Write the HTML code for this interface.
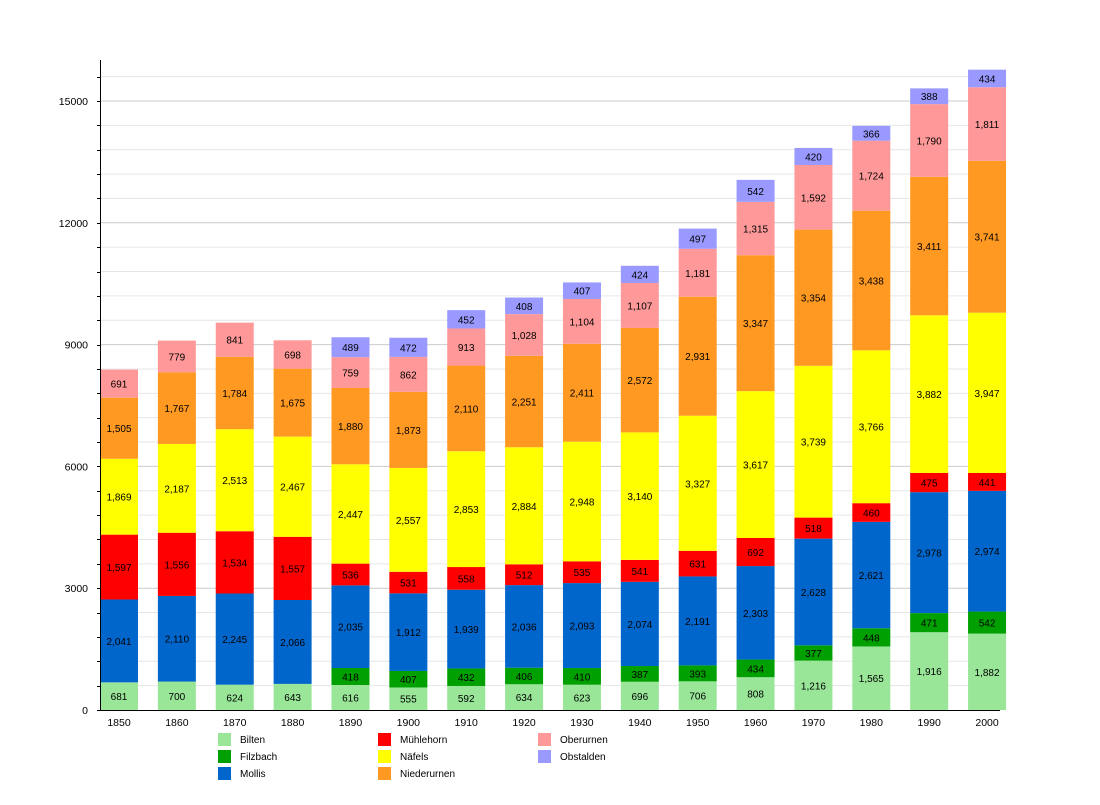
<!DOCTYPE html>
<html><head><meta charset="utf-8"><style>
html,body{margin:0;padding:0;background:#fff;}
svg text{font-family:"Liberation Sans",sans-serif;}
</style></head><body>
<svg id="c" width="1100" height="800" xmlns="http://www.w3.org/2000/svg"></svg>
<script>
const svg=document.getElementById('c');
const NS='http://www.w3.org/2000/svg';
function el(t,a,txt){const e=document.createElementNS(NS,t);for(const k in a)e.setAttribute(k,a[k]);if(txt!==undefined)e.textContent=txt;svg.appendChild(e);return e;}
const years=[1850,1860,1870,1880,1890,1900,1910,1920,1930,1940,1950,1960,1970,1980,1990,2000];
const data=[
[681,0,2041,1597,1869,1505,691,0],
[700,0,2110,1556,2187,1767,779,0],
[624,0,2245,1534,2513,1784,841,0],
[643,0,2066,1557,2467,1675,698,0],
[616,418,2035,536,2447,1880,759,489],
[555,407,1912,531,2557,1873,862,472],
[592,432,1939,558,2853,2110,913,452],
[634,406,2036,512,2884,2251,1028,408],
[623,410,2093,535,2948,2411,1104,407],
[696,387,2074,541,3140,2572,1107,424],
[706,393,2191,631,3327,2931,1181,497],
[808,434,2303,692,3617,3347,1315,542],
[1216,377,2628,518,3739,3354,1592,420],
[1565,448,2621,460,3766,3438,1724,366],
[1916,471,2978,475,3882,3411,1790,388],
[1882,542,2974,441,3947,3741,1811,434]];
const colors=['#99e699','#00a000','#0066cc','#ff0000','#ffff00','#ff9922','#ff9999','#9999ff'];
const names=['Bilten','Filzbach','Mollis','Mühlehorn','Näfels','Niederurnen','Oberurnen','Obstalden'];
const x0=100,x1=1000,yb=710,k=609/15000;
for(let v=600;v<=15600;v+=600){const y=yb-v*k;el('line',{x1:x0,x2:x1,y1:y,y2:y,stroke:v%3000==0?'#cccccc':'#e6e6e6','stroke-width':1});}
for(let v=0;v<=15000;v+=3000){const y=yb-v*k;el('text',{x:88,y:y+4,'font-size':10.5,'text-anchor':'end'},String(v));}
for(let v=0;v<=15600;v+=600){const y=Math.round(yb-v*k)+0.5;el('line',{x1:x0-3,x2:x0,y1:y,y2:y,stroke:'#000'});}
years.forEach((yr,i)=>{
 const cx=119+i*57.87;let acc=0;
 data[i].forEach((v,j)=>{if(!v)return;const yt=yb-(acc+v)*k,h=v*k;
  el('rect',{x:cx-19,y:yt,width:38,height:h,fill:colors[j]});
  el('text',{x:cx,y:yt+h/2+4,'font-size':10,'text-anchor':'middle'},v.toLocaleString('en-US'));
  acc+=v;});
 el('text',{x:cx,y:726,'font-size':10.5,'text-anchor':'middle'},String(yr));
});
el('line',{x1:x0+0.5,x2:x0+0.5,y1:60,y2:yb,stroke:'#000'});
el('line',{x1:x0,x2:x1,y1:yb+0.5,y2:yb+0.5,stroke:'#000'});
names.forEach((n,j)=>{const col=Math.floor(j/3),row=j%3;const x=218+col*160,y=733+row*17;
 el('rect',{x:x,y:y,width:13,height:13,fill:colors[j]});
 el('text',{x:x+22,y:y+10,'font-size':10},n);});
</script>
</body></html>
